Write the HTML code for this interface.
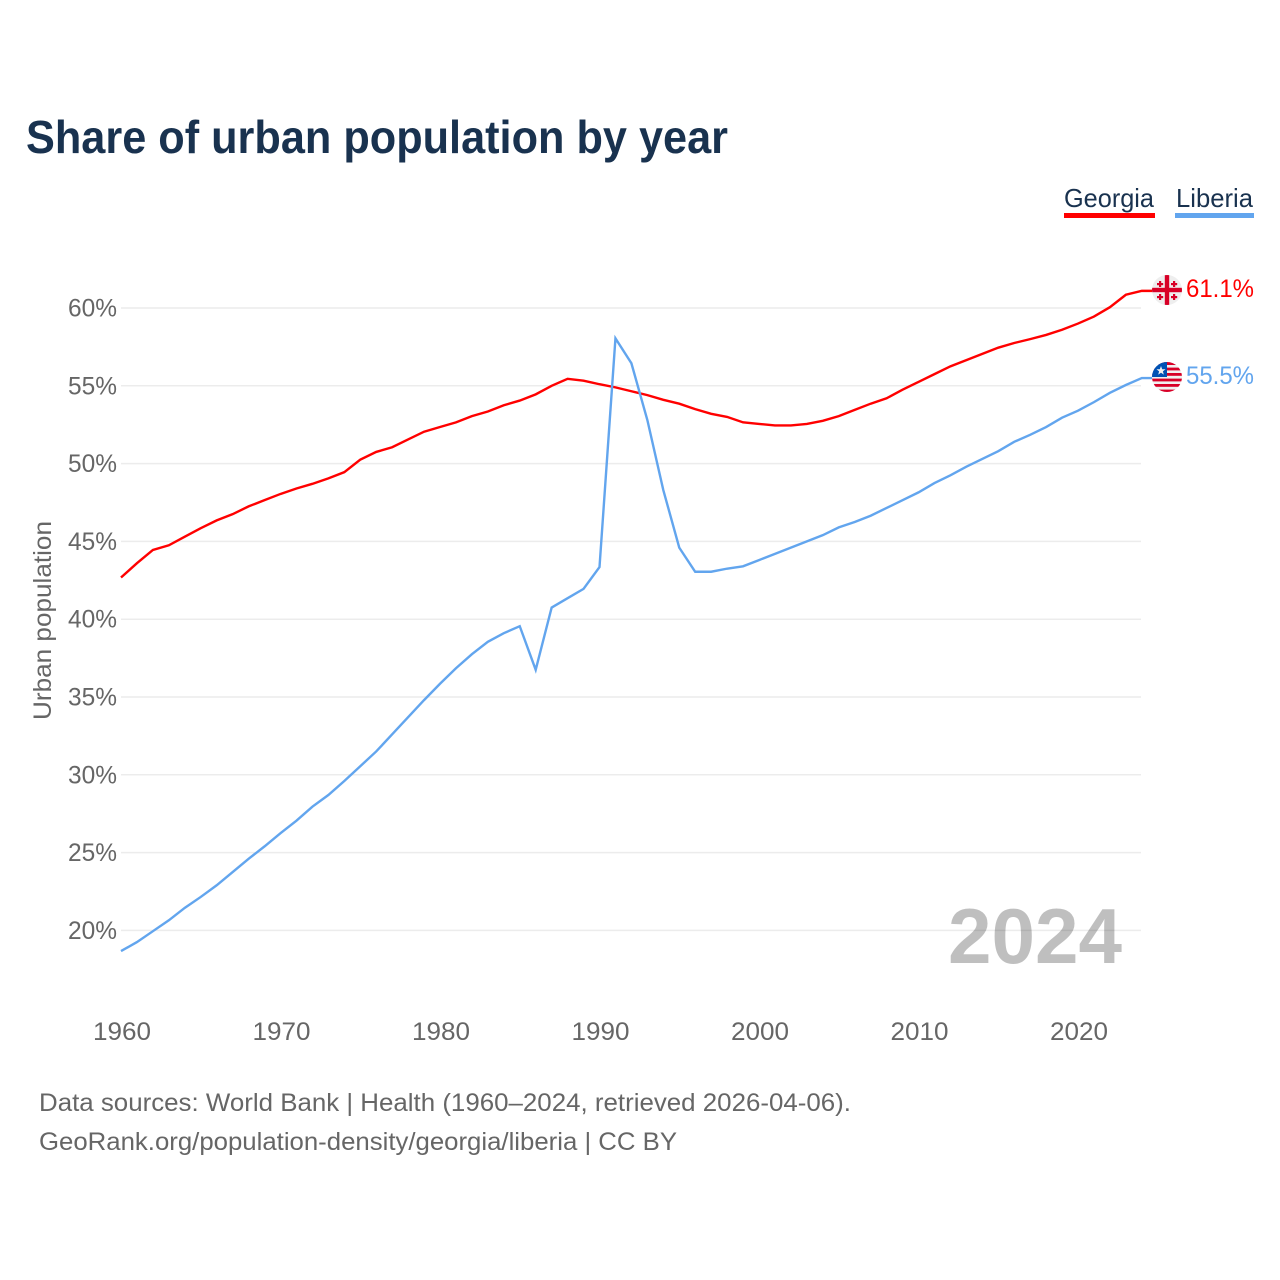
<!DOCTYPE html>
<html lang="en">
<head>
<meta charset="utf-8">
<title>Share of urban population by year</title>
<style>
html,body{margin:0;padding:0;background:#fff}
svg{display:block}
text{font-family:"Liberation Sans",sans-serif}
</style>
</head>
<body>
<svg id="chart" xmlns="http://www.w3.org/2000/svg" width="1280" height="1280" viewBox="0 0 1280 1280">
  <rect width="1280" height="1280" fill="#fff"/>
  <text x="26" y="153" font-size="46" font-weight="700" fill="#19324f" textLength="702" lengthAdjust="spacingAndGlyphs">Share of urban population by year</text>

  <g>
    <text x="1064" y="207" font-size="26" fill="#19324f" textLength="90" lengthAdjust="spacingAndGlyphs">Georgia</text>
    <rect x="1064" y="213" width="91" height="5" fill="#ff0000"/>
  </g>
  <g>
    <text x="1176" y="207" font-size="26" fill="#19324f" textLength="77" lengthAdjust="spacingAndGlyphs">Liberia</text>
    <rect x="1175" y="213" width="79" height="5" fill="#62a5ee"/>
  </g>

  <g id="grid"></g>
  <g id="yticks"></g>
  <g id="xticks"></g>

  <text transform="translate(51,720) rotate(-90)" font-size="25" fill="#666" textLength="199" lengthAdjust="spacingAndGlyphs">Urban population</text>

  <text x="948" y="963" font-size="78" font-weight="700" fill="#000" fill-opacity="0.25" textLength="174" lengthAdjust="spacingAndGlyphs">2024</text>

  <g id="series"></g>

  <defs>
    <clipPath id="flag-clip-ge"><circle cx="1167" cy="290" r="15"/></clipPath>
    <clipPath id="flag-clip-lr"><circle cx="1167" cy="377" r="15"/></clipPath>
  </defs>

  <g clip-path="url(#flag-clip-ge)">
    <rect x="1152" y="275" width="30" height="30" fill="#eeeeee"/>
    <rect x="1164.8" y="275" width="4.4" height="30" fill="#d80027"/>
    <rect x="1152" y="287.8" width="30" height="4.4" fill="#d80027"/>
    <g fill="#d80027">
      <rect x="1159" y="281" width="2.2" height="6"/><rect x="1157" y="283" width="6.2" height="2.2"/>
      <rect x="1173" y="281" width="2.2" height="6"/><rect x="1171" y="283" width="6.2" height="2.2"/>
      <rect x="1159" y="294" width="2.2" height="6"/><rect x="1157" y="296" width="6.2" height="2.2"/>
      <rect x="1173" y="294" width="2.2" height="6"/><rect x="1171" y="296" width="6.2" height="2.2"/>
    </g>
  </g>
  <g clip-path="url(#flag-clip-lr)">
    <rect x="1152" y="362" width="30" height="30" fill="#f0f0f0"/>
    <g fill="#d80027">
      <rect x="1152" y="362" width="30" height="3"/>
      <rect x="1152" y="367.6" width="30" height="2.8"/>
      <rect x="1152" y="373" width="30" height="2.8"/>
      <rect x="1152" y="378.6" width="30" height="2.8"/>
      <rect x="1152" y="384" width="30" height="2.8"/>
      <rect x="1152" y="389.6" width="30" height="2.8"/>
    </g>
    <rect x="1152" y="362" width="15" height="15" fill="#0052b4"/>
    <polygon points="1161,366 1162.2,369.3 1165.5,369.3 1162.9,371.4 1163.8,374.6 1161,372.7 1158.2,374.6 1159.1,371.4 1156.5,369.3 1159.8,369.3" fill="#f0f0f0"/>
  </g>

  <text x="1186" y="297" font-size="25" fill="#ff0000" textLength="68" lengthAdjust="spacingAndGlyphs">61.1%</text>
  <text x="1186" y="384" font-size="25" fill="#62a5ee" textLength="68" lengthAdjust="spacingAndGlyphs">55.5%</text>

  <text x="39" y="1111" font-size="25" fill="#666" textLength="812" lengthAdjust="spacingAndGlyphs">Data sources: World Bank | Health (1960–2024, retrieved 2026-04-06).</text>
  <text x="39" y="1150" font-size="25" fill="#666" textLength="638" lengthAdjust="spacingAndGlyphs">GeoRank.org/population-density/georgia/liberia | CC BY</text>
</svg>
<script>
const startYear = 1960;
const yTickValues = [20, 25, 30, 35, 40, 45, 50, 55, 60];
const xTickYears = [1960, 1970, 1980, 1990, 2000, 2010, 2020];
const georgiaValues = [42.68,43.6,44.45,44.75,45.3,45.85,46.35,46.75,47.25,47.65,48.05,48.4,48.7,49.05,49.45,50.25,50.75,51.05,51.55,52.05,52.35,52.65,53.05,53.35,53.75,54.05,54.45,55,55.45,55.33,55.1,54.9,54.65,54.4,54.1,53.85,53.5,53.2,53,52.65,52.55,52.45,52.45,52.55,52.75,53.05,53.45,53.85,54.2,54.75,55.25,55.75,56.25,56.65,57.05,57.45,57.75,58,58.27,58.6,59,59.45,60.05,60.85,61.1];
const liberiaValues = [18.67,19.25,19.95,20.65,21.45,22.15,22.9,23.75,24.6,25.4,26.25,27.05,27.95,28.7,29.6,30.55,31.5,32.6,33.7,34.8,35.85,36.85,37.75,38.55,39.1,39.55,36.75,40.75,41.35,41.95,43.35,58.05,56.45,52.8,48.3,44.6,43.05,43.05,43.25,43.4,43.8,44.2,44.6,45,45.4,45.9,46.25,46.65,47.15,47.65,48.15,48.75,49.25,49.8,50.3,50.8,51.4,51.85,52.35,52.95,53.4,53.95,54.55,55.05,55.5];

const svgNS = 'http://www.w3.org/2000/svg';
const xScale = function (year) { return 121 + (year - 1960) * 15.95; };
const yScale = function (value) { return 308 + (60 - value) * 15.56; };
const gridGroup = document.getElementById('grid');
const yTickGroup = document.getElementById('yticks');
const xTickGroup = document.getElementById('xticks');
const seriesGroup = document.getElementById('series');

yTickValues.forEach(function (value) {
  const line = document.createElementNS(svgNS, 'line');
  
  
  line.setAttribute('x1', 121);
  line.setAttribute('x2', 1141);
  line.setAttribute('y1', yScale(value));
  line.setAttribute('y2', yScale(value));
  line.setAttribute('stroke', '#ececec');
  line.setAttribute('stroke-width', 1.5);
  gridGroup.appendChild(line);

  const label = document.createElementNS(svgNS, 'text');
  
  
  label.setAttribute('x', 117);
  label.setAttribute('y', yScale(value) + 8.5);
  label.setAttribute('text-anchor', 'end');
  label.setAttribute('font-size', 25);
  label.setAttribute('fill', '#666');
  label.setAttribute('textLength', 49);
  label.setAttribute('lengthAdjust', 'spacingAndGlyphs');
  label.textContent = value + '%';
  yTickGroup.appendChild(label);
});

xTickYears.forEach(function (year) {
  const label = document.createElementNS(svgNS, 'text');
  
  
  label.setAttribute('x', xScale(year) + 1);
  label.setAttribute('y', 1040);
  label.setAttribute('text-anchor', 'middle');
  label.setAttribute('font-size', 25);
  label.setAttribute('fill', '#666');
  label.setAttribute('textLength', 58);
  label.setAttribute('lengthAdjust', 'spacingAndGlyphs');
  label.textContent = year;
  xTickGroup.appendChild(label);
});

function linePath(values) {
  const points = values.map(function (value, index) {
    return xScale(startYear + index).toFixed(2) + ',' + yScale(value).toFixed(2);
  });
  const last = values[values.length - 1];
  points.push('1152,' + yScale(last).toFixed(2));
  return 'M' + points.join('L');
}

const georgiaLine = document.createElementNS(svgNS, 'path');


georgiaLine.setAttribute('d', linePath(georgiaValues));
georgiaLine.setAttribute('fill', 'none');
georgiaLine.setAttribute('stroke', '#ff0000');
georgiaLine.setAttribute('stroke-width', 2.4);
seriesGroup.appendChild(georgiaLine);

const liberiaLine = document.createElementNS(svgNS, 'path');


liberiaLine.setAttribute('d', linePath(liberiaValues));
liberiaLine.setAttribute('fill', 'none');
liberiaLine.setAttribute('stroke', '#62a5ee');
liberiaLine.setAttribute('stroke-width', 2.4);
seriesGroup.appendChild(liberiaLine);
</script>
</body>
</html>
